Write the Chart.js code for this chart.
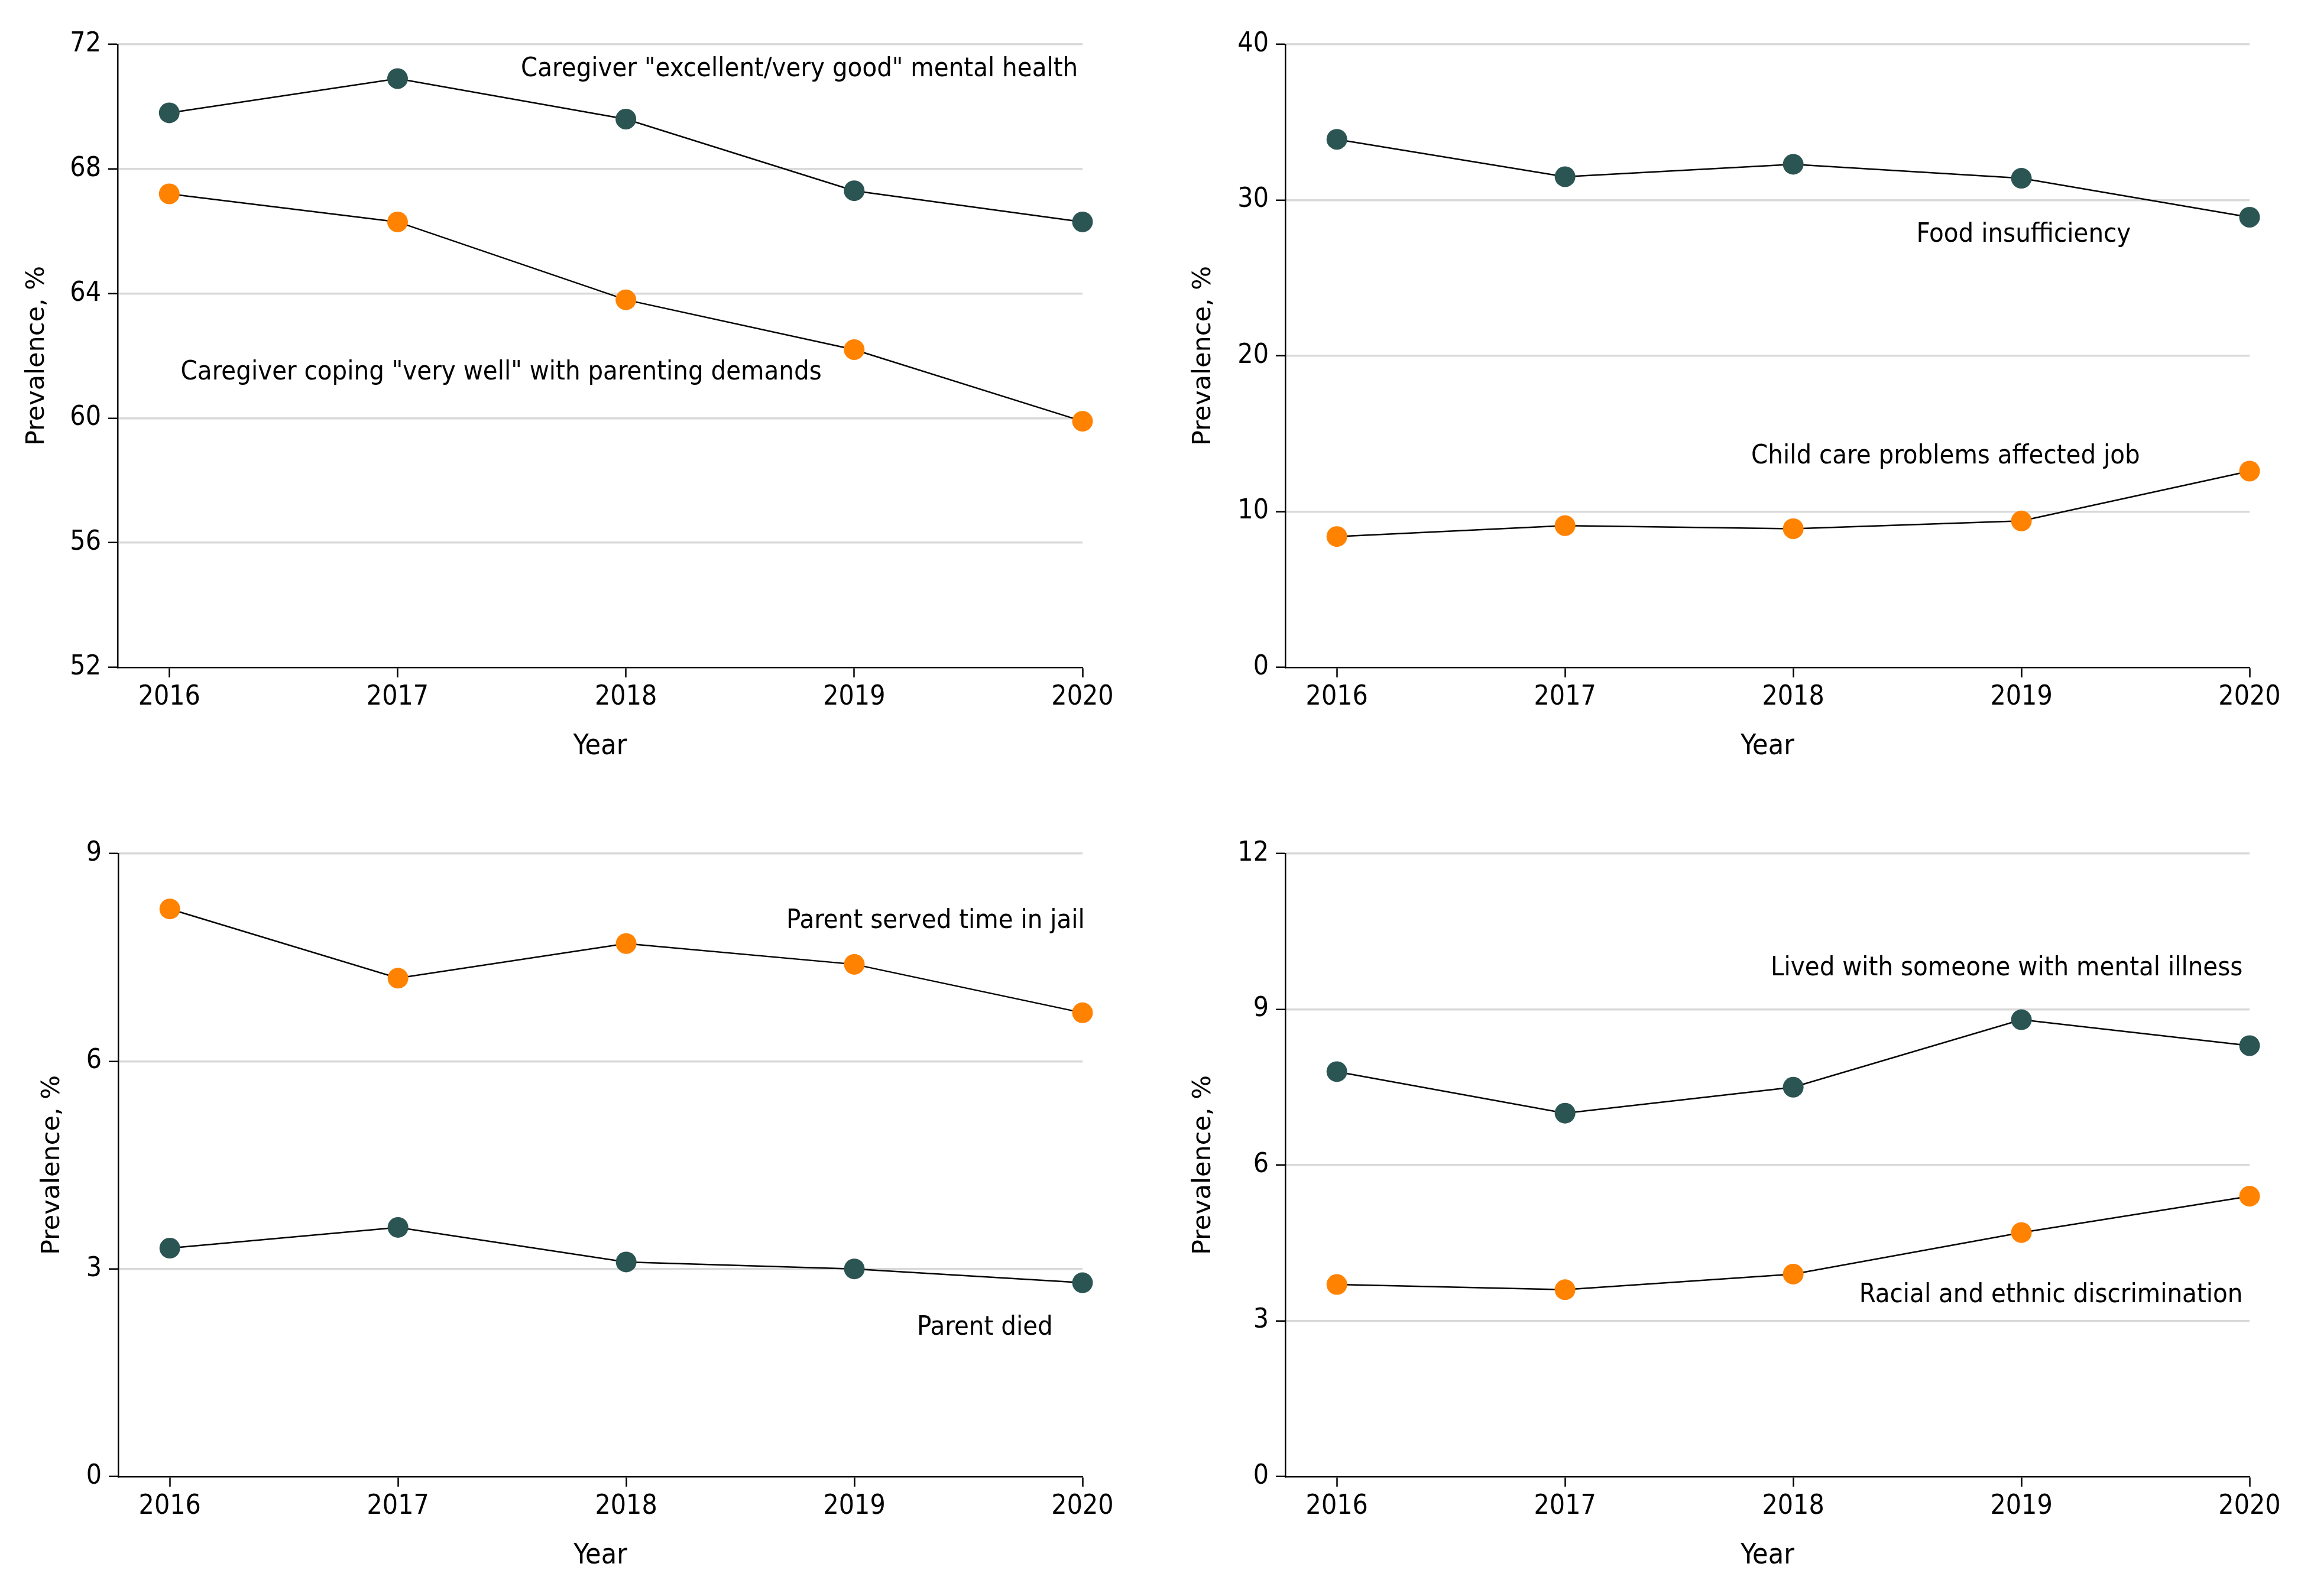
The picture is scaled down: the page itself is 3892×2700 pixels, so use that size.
<!DOCTYPE html>
<html>
<head>
<meta charset="utf-8">
<script src="https://cdn.jsdelivr.net/npm/chart.js@4/dist/chart.umd.min.js"></script>
<style>
  html, body { margin: 0; padding: 0; background: #fff; }
  #page { position: relative; width: 3892px; height: 2700px; background: #fff; }
  canvas { position: absolute; }
</style>
</head>
<body>
<div id="page">
  <canvas id="painelSaudeMental" width="1946" height="1350" style="left:0;top:0"></canvas>
  <canvas id="painelAlimentacao" width="1946" height="1350" style="left:1946px;top:0"></canvas>
  <canvas id="painelPais" width="1946" height="1350" style="left:0;top:1350px"></canvas>
  <canvas id="painelDoencaMental" width="1946" height="1350" style="left:1946px;top:1350px"></canvas>
</div>
<script>
// Dados (prevalência, %)
const years = [2016, 2017, 2018, 2019, 2020];

const mentalHealth = [69.8, 70.9, 69.6, 67.3, 66.3];
const copingWell = [67.2, 66.3, 63.8, 62.2, 59.9];

const foodInsufficiency = [33.9, 31.5, 32.3, 31.4, 28.9];
const childCareJob = [8.4, 9.1, 8.9, 9.4, 12.6];

const parentJail = [8.2, 7.2, 7.7, 7.4, 6.7];
const parentDied = [3.3, 3.6, 3.1, 3.0, 2.8];

const mentalIllness = [7.8, 7.0, 7.5, 8.8, 8.3];
const discrimination = [3.7, 3.6, 3.9, 4.7, 5.4];

const ticksSaudeMental = [52, 56, 60, 64, 68, 72];
const ticksAlimentacao = [0, 10, 20, 30, 40];
const ticksPais = [0, 3, 6, 9];
const ticksDoencaMental = [0, 3, 6, 9, 12];

const labelMentalHealth = 'Caregiver "excellent/very good" mental health';
const labelCoping = 'Caregiver coping "very well" with parenting demands';
const labelFood = 'Food insufficiency';
const labelChildCare = 'Child care problems affected job';
const labelJail = 'Parent served time in jail';
const labelDied = 'Parent died';
const labelMentalIllness = 'Lived with someone with mental illness';
const labelDiscrimination = 'Racial and ethnic discrimination';


// ---------------------------------------------------------------------------
// Tema
// ---------------------------------------------------------------------------

const COR_ESCURA = "#2b5553";
const COR_LARANJA = "#ff8200";
const COR_GRADE = "#d9d9d9";
const FONTE = "'DejaVu Sans Condensed', 'DejaVu Sans', sans-serif";
const X_MIN = 2015.774;

Chart.defaults.font.family = FONTE;
Chart.defaults.font.size = 46;
Chart.defaults.color = "#000";


// Rótulos das séries, desenhados em coordenadas de dados.
const rotulosPlugin = {
  id: "rotulos",
  afterDatasetsDraw(chart, args, opts) {
    const { ctx, scales } = chart;
    ctx.save();
    ctx.font = `45px ${FONTE}`;
    ctx.fillStyle = "#000";
    ctx.textBaseline = "middle";
    for (const r of opts.itens || []) {
      ctx.textAlign = r.align;
      ctx.fillText(r.text, scales.x.getPixelForValue(r.x), scales.y.getPixelForValue(r.y));
    }
    ctx.restore();
  },
};


function serie(valores, cor) {
  return {
    data: years.map((ano, i) => ({ x: ano, y: valores[i] })),
    borderColor: "#000",
    borderWidth: 2.5,
    pointRadius: 17.5,
    pointHoverRadius: 17.5,
    pointBackgroundColor: cor,
    pointBorderWidth: 0,
    clip: false,
  };
}


function desenharPainel(canvasId, cfg) {
  const min = cfg.yTicks[0];
  const max = cfg.yTicks[cfg.yTicks.length - 1];
  new Chart(document.getElementById(canvasId), {
    type: "line",
    data: { datasets: cfg.series },
    plugins: [rotulosPlugin],
    options: {
      responsive: false,
      animation: false,
      events: [],
      layout: { padding: cfg.padding },
      plugins: {
        legend: { display: false },
        tooltip: { enabled: false },
        rotulos: { itens: cfg.rotulos },
      },
      scales: {
        x: {
          type: "linear",
          min: X_MIN,
          max: 2020,
          afterBuildTicks: (axis) => { axis.ticks = years.map((v) => ({ value: v })); },
          afterFit: (axis) => { axis.height = 163; },
          ticks: {
            callback: (v) => String(v),
            autoSkip: false,
            maxRotation: 0,
            padding: 6,
            font: { size: 46 },
          },
          grid: {
            drawOnChartArea: false,
            drawTicks: true,
            tickLength: 17,
            tickColor: "#000",
            tickWidth: 2.5,
          },
          border: { display: true, color: "#000", width: 2.5 },
          title: {
            display: true,
            text: "Year",
            font: { size: 48 },
            padding: 0,
          },
        },
        y: {
          min,
          max,
          afterBuildTicks: (axis) => { axis.ticks = cfg.yTicks.map((v) => ({ value: v })); },
          afterFit: (axis) => { axis.width = cfg.larguraY; },
          ticks: { padding: 12, font: { size: 46 } },
          grid: {
            color: (c) => (c.tick && c.tick.value === min ? "rgba(0,0,0,0)" : COR_GRADE),
            lineWidth: 3.5,
            tickLength: 16,
            tickColor: "#000",
            tickWidth: 2.5,
          },
          border: { display: true, color: "#000", width: 2.5 },
          title: {
            display: true,
            text: "Prevalence, %",
            font: { family: "'DejaVu Sans', sans-serif", size: 43 },
            padding: { top: cfg.tituloY, bottom: 0 },
          },
        },
      },
    },
  });
}


desenharPainel("painelSaudeMental", {
  yTicks: ticksSaudeMental,
  larguraY: 199,
  tituloY: 37,
  padding: { top: 75, right: 115, bottom: 58, left: 0 },
  series: [serie(mentalHealth, COR_ESCURA), serie(copingWell, COR_LARANJA)],
  rotulos: [
    { text: labelMentalHealth, x: 2019.98, y: 71.2, align: "right" },
    { text: labelCoping, x: 2016.05, y: 61.47, align: "left" },
  ],
});

desenharPainel("painelAlimentacao", {
  yTicks: ticksAlimentacao,
  larguraY: 228,
  tituloY: 64,
  padding: { top: 75, right: 87, bottom: 58, left: 0 },
  series: [serie(foodInsufficiency, COR_ESCURA), serie(childCareJob, COR_LARANJA)],
  rotulos: [
    { text: labelFood, x: 2019.48, y: 27.78, align: "right" },
    { text: labelChildCare, x: 2019.52, y: 13.55, align: "right" },
  ],
});

desenharPainel("painelPais", {
  yTicks: ticksPais,
  larguraY: 200,
  tituloY: 63,
  padding: { top: 94, right: 115, bottom: 39, left: 0 },
  series: [serie(parentJail, COR_LARANJA), serie(parentDied, COR_ESCURA)],
  rotulos: [
    { text: labelJail, x: 2020.01, y: 8.02, align: "right" },
    { text: labelDied, x: 2019.87, y: 2.15, align: "right" },
  ],
});

desenharPainel("painelDoencaMental", {
  yTicks: ticksDoencaMental,
  larguraY: 228,
  tituloY: 64,
  padding: { top: 94, right: 87, bottom: 39, left: 0 },
  series: [serie(mentalIllness, COR_ESCURA), serie(discrimination, COR_LARANJA)],
  rotulos: [
    { text: labelMentalIllness, x: 2019.97, y: 9.79, align: "right" },
    { text: labelDiscrimination, x: 2019.97, y: 3.49, align: "right" },
  ],
});
</script>
</body>
</html>
